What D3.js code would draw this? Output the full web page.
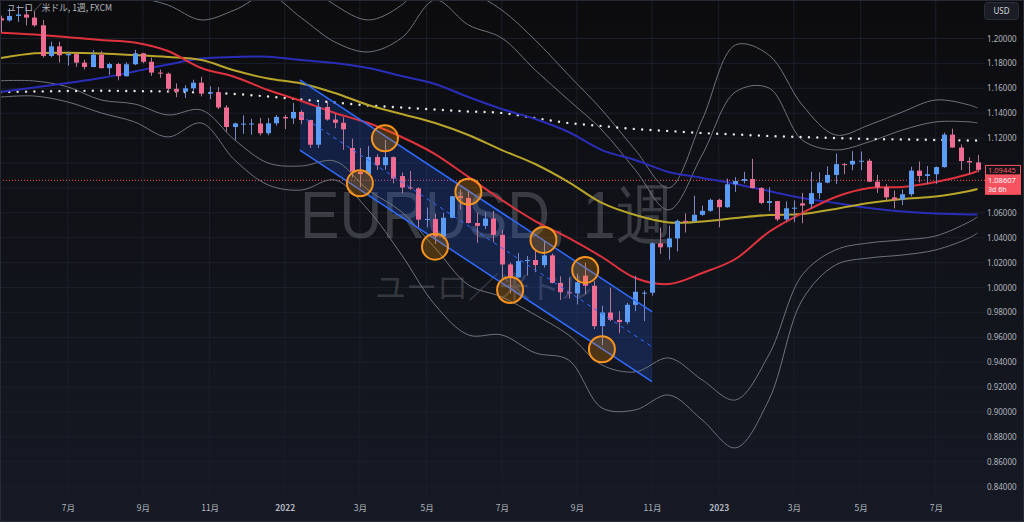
<!DOCTYPE html>
<html>
<head>
<meta charset="utf-8">
<script src="https://cdn.jsdelivr.net/npm/d3@7"></script>
<style>
  html, body { margin: 0; padding: 0; background: #0f1014; }
  svg { display: block; font-family: "Noto Sans", "Liberation Sans", sans-serif; }
</style>
</head>
<body>
<svg width="1024" height="522"></svg>
<script>
// weekly bars, first bar = week of 2021-05-10
const opens = [1.2163,1.2145,1.2181,1.2193,1.2168,1.2106,1.1860,1.1937,1.1865,1.1875,1.1806,1.1771,1.1870,1.1762,1.1795,1.1697,1.1793,1.1881,1.1813,1.1726,1.1718,1.1596,1.1573,1.1600,1.1645,1.1558,1.1569,1.1446,1.1289,1.1312,1.1316,1.1317,1.1239,1.1319,
  1.1370,1.1358,1.1410,1.1345,1.1147,1.1450,1.1349,1.1323,1.1120,1.0930,1.0911,1.1048,1.0983,1.1047,1.0895,1.0803,1.0796,1.0545,1.0550,1.0410,1.0560,1.0733,1.0719,1.0518,1.0495,1.0554,1.0423,1.0185,1.0081,1.0212,1.0221,1.0180,1.0258,1.0037,0.9962,0.9953,1.0095,1.0014,0.9690,0.9799,0.9740,0.9722,0.9861,0.9952,0.9958,1.0355,1.0323,1.0394,1.0535,1.0533,1.0584,1.0616,
  1.0704,1.0645,1.0829,1.0856,1.0871,1.0799,1.0679,1.0694,1.0547,1.0636,1.0676,1.0670,1.0758,1.0842,1.0904,1.0991,1.0988,1.1017,1.1018,1.0850,1.0805,1.0724,1.0706,1.0749,1.0939,1.0896,1.0910,1.0967,1.1228,1.1124,1.1016,1.1005];
const highs = [1.2183,1.2245,1.2265,1.2255,1.2218,1.2149,1.1975,1.1975,1.1895,1.1880,1.1829,1.1909,1.1900,1.1805,1.1805,1.1809,1.1909,1.1885,1.1846,1.1751,1.1726,1.1640,1.1624,1.1669,1.1692,1.1616,1.1609,1.1464,1.1324,1.1383,1.1355,1.1362,1.1361,1.1386,
  1.1386,1.1482,1.1424,1.1348,1.1484,1.1495,1.1395,1.1367,1.1195,1.1121,1.1137,1.1070,1.1185,1.1053,1.0924,1.0936,1.0805,1.0642,1.0593,1.0600,1.0736,1.0787,1.0774,1.0601,1.0606,1.0615,1.0463,1.0200,1.0278,1.0254,1.0293,1.0368,1.0272,1.0090,1.0079,1.0112,1.0198,1.0051,0.9853,0.9999,0.9810,0.9876,1.0094,0.9976,1.0363,1.0481,1.0497,1.0545,1.0595,1.0737,1.0658,1.0714,
  1.0713,1.0875,1.0887,1.0929,1.1033,1.0806,1.0804,1.0696,1.0692,1.0700,1.0760,1.0930,1.0925,1.0973,1.1076,1.1000,1.1096,1.1092,1.1034,1.0904,1.0830,1.0779,1.0787,1.0970,1.1012,1.0976,1.0972,1.1244,1.1276,1.1150,1.1045,1.1065];
const lows = [1.2051,1.2135,1.2133,1.2105,1.2093,1.1847,1.1848,1.1807,1.1782,1.1772,1.1752,1.1769,1.1760,1.1706,1.1664,1.1694,1.1786,1.1802,1.1700,1.1684,1.1563,1.1529,1.1523,1.1571,1.1535,1.1513,1.1433,1.1250,1.1185,1.1235,1.1227,1.1221,1.1222,1.1300,
  1.1272,1.1314,1.1312,1.1121,1.1121,1.1340,1.1280,1.1106,1.0885,1.0806,1.0900,1.0944,1.0946,1.0837,1.0757,1.0785,1.0471,1.0483,1.0350,1.0389,1.0556,1.0627,1.0514,1.0359,1.0470,1.0366,1.0072,0.9952,1.0078,1.0096,1.0123,1.0160,1.0033,0.9900,0.9910,0.9864,0.9944,0.9666,0.9536,0.9730,0.9632,0.9705,0.9810,0.9730,0.9935,1.0270,1.0223,1.0290,1.0442,1.0527,1.0576,1.0608,
  1.0483,1.0640,1.0768,1.0836,1.0796,1.0669,1.0614,1.0533,1.0532,1.0524,1.0516,1.0635,1.0713,1.0837,1.0832,1.0910,1.0941,1.0942,1.0847,1.0760,1.0700,1.0635,1.0661,1.0732,1.0843,1.0834,1.0833,1.0962,1.1122,1.0944,1.0913,1.0926];
const closes = [1.2145,1.2181,1.2193,1.2168,1.2106,1.1860,1.1937,1.1865,1.1875,1.1806,1.1771,1.1870,1.1762,1.1795,1.1697,1.1793,1.1881,1.1813,1.1726,1.1718,1.1596,1.1573,1.1600,1.1645,1.1558,1.1569,1.1446,1.1289,1.1318,1.1316,1.1317,1.1239,1.1319,1.1370,
  1.1358,1.1410,1.1345,1.1147,1.1450,1.1349,1.1323,1.1270,1.0930,1.0911,1.1048,1.0983,1.1047,1.0875,1.0803,1.0796,1.0545,1.0550,1.0410,1.0560,1.0733,1.0719,1.0518,1.0495,1.0554,1.0423,1.0185,1.0081,1.0212,1.0221,1.0180,1.0258,1.0037,0.9962,0.9953,1.0042,1.0014,0.9690,0.9799,0.9740,0.9722,0.9861,0.9966,0.9958,1.0355,1.0323,1.0394,1.0535,1.0533,1.0584,1.0616,1.0704,
  1.0645,1.0829,1.0856,1.0871,1.0799,1.0679,1.0694,1.0547,1.0636,1.0641,1.0658,1.0758,1.0842,1.0904,1.0991,1.0988,1.1017,1.1018,1.0850,1.0805,1.0724,1.0706,1.0749,1.0939,1.0896,1.0910,1.0967,1.1228,1.1124,1.1016,1.1005,1.0945];

// x-axis ticks (bar index of the first bar of the month)
const tickIdx = [8, 17, 25, 34, 43, 51, 60, 69, 78, 86, 95, 103, 112];
const tickLabels = ["7月", "9月", "11月", "2022", "3月", "5月", "7月", "9月", "11月", "2023", "3月", "5月", "7月"];
const priceTicks = [0.84, 0.86, 0.88, 0.90, 0.92, 0.94, 0.96, 0.98, 1.00, 1.02, 1.04, 1.06, 1.08, 1.10, 1.12, 1.14, 1.16, 1.18, 1.20];

// indicator lines, sampled every 4 bars (plus last bar)
const lineIdx = [0,4,8,12,16,20,24,28,32,36,40,44,48,52,56,60,64,68,72,76,80,84,88,92,96,100,104,108,112,116,117];
const maFast = [1.2047,1.2032,1.2010,1.1988,1.1968,1.1900,1.1763,1.1691,1.1586,1.1498,1.1402,1.1321,1.1209,1.1072,1.0888,1.0703,1.0534,1.0398,1.0245,1.0076,1.0028,1.0116,1.0229,1.0446,1.0598,1.0727,1.0799,1.0807,1.0847,1.0912,1.0936];
const maMid = [1.1843,1.1881,1.1886,1.1880,1.1867,1.1851,1.1827,1.1743,1.1679,1.1639,1.1562,1.1466,1.1394,1.1321,1.1225,1.1104,1.0992,1.0847,1.0679,1.0582,1.0522,1.0530,1.0558,1.0582,1.0590,1.0631,1.0679,1.0711,1.0731,1.0775,1.0791];
const maSlow = [1.1573,1.1606,1.1643,1.1683,1.1735,1.1791,1.1839,1.1851,1.1854,1.1827,1.1803,1.1763,1.1699,1.1635,1.1530,1.1434,1.1353,1.1249,1.1104,1.1024,1.0928,1.0880,1.0831,1.0775,1.0719,1.0679,1.0639,1.0610,1.0594,1.0586,1.0586];
const maLong = [1.1570,1.1574,1.1578,1.1580,1.1578,1.1574,1.1566,1.1554,1.1534,1.1510,1.1486,1.1462,1.1446,1.1430,1.1414,1.1402,1.1361,1.1321,1.1297,1.1273,1.1257,1.1241,1.1229,1.1217,1.1209,1.1201,1.1193,1.1189,1.1185,1.1181,1.1181];
const bandUpper3 = [1.2791,1.2831,1.2711,1.2631,1.2590,1.2470,1.2349,1.2430,1.2631,1.2470,1.2269,1.2149,1.2269,1.2550,1.2390,1.2229,1.1988,1.1707,1.1426,1.1105,1.0800,1.1346,1.1948,1.1868,1.1466,1.1225,1.1305,1.1410,1.1506,1.1466,1.1442];
const bandUpper2 = [1.2470,1.2430,1.2390,1.2349,1.2333,1.2269,1.2149,1.2229,1.2349,1.2165,1.1972,1.1892,1.2004,1.2309,1.2109,1.2004,1.1747,1.1506,1.1265,1.0944,1.0623,1.1064,1.1571,1.1603,1.1185,1.1105,1.1169,1.1265,1.1330,1.1330,1.1322];
const bandLower2 = [1.1661,1.1659,1.1611,1.1506,1.1474,1.1386,1.1426,1.1185,1.1000,1.0976,1.1016,1.0783,1.0607,1.0318,1.0021,0.9924,0.9780,0.9619,0.9378,0.9322,0.9434,0.9258,0.9097,0.9459,1.0101,1.0302,1.0358,1.0382,1.0414,1.0527,1.0567];
const bandLower3 = [1.1530,1.1538,1.1490,1.1402,1.1330,1.1209,1.1321,1.1024,1.0824,1.0783,1.0864,1.0623,1.0262,0.9860,0.9619,0.9619,0.9475,0.9418,0.9033,0.9017,0.9137,0.8937,0.8712,0.9097,0.9900,1.0181,1.0237,1.0261,1.0302,1.0398,1.0438];

// drawing: parallel channel and marked touches
const channelIdx = [35.8, 78];
const channelTop = [1.1667, 0.9806];
const channelBottom = [1.1104, 0.9243];
const circleIdx = [43, 46, 52, 56, 61, 65, 70, 72];
const circlePrice = [1.0837, 1.1198, 1.0328, 1.0770, 0.9980, 1.0382, 1.0141, 0.9504];

const lastClose = 1.09445;
const linePrice = 1.08607;

const svg = d3.select("svg"),
  W = 1024, H = 522,
  plotW = 985, plotH = 497;

const xScale = d3.scaleLinear().domain([0, 117]).range([1, 977.5]);
const yScale = d3.scaleLinear().domain([0.84, 1.20]).range([486.7, 38.5]);

const defs = svg.append("defs");
const grad = defs.append("linearGradient").attr("id", "bg").attr("x1", 0).attr("y1", 0).attr("x2", 0).attr("y2", 1);
grad.append("stop").attr("offset", "0%").attr("stop-color", "#0c0c0e");
grad.append("stop").attr("offset", "100%").attr("stop-color", "#161a25");
defs.append("clipPath").attr("id", "plot").append("rect").attr("width", plotW).attr("height", plotH);

svg.append("rect").attr("width", W).attr("height", H).attr("fill", "url(#bg)");

const plot = svg.append("g").attr("clip-path", "url(#plot)");

// grid
plot.append("g").selectAll("line").data(tickIdx).join("line")
  .attr("x1", d => xScale(d)).attr("x2", d => xScale(d))
  .attr("y1", 0).attr("y2", plotH)
  .attr("stroke", "#1b1f2a").attr("stroke-width", 1);
plot.append("g").selectAll("line").data(priceTicks).join("line")
  .attr("x1", 0).attr("x2", plotW)
  .attr("y1", d => yScale(d)).attr("y2", d => yScale(d))
  .attr("stroke", "#1b1f2a").attr("stroke-width", 1);

// watermark
plot.append("text")
  .attr("x", 300).attr("y", 238)
  .attr("textLength", 375).attr("lengthAdjust", "spacingAndGlyphs")
  .attr("font-size", 66).attr("font-family", "Liberation Sans, sans-serif")
  .attr("fill", "rgba(178,181,190,0.26)")
  .text("EURUSD, 1週");
plot.append("text")
  .attr("x", 375).attr("y", 298)
  .attr("textLength", 217).attr("lengthAdjust", "spacingAndGlyphs")
  .attr("font-size", 30).attr("font-family", "Noto Sans CJK JP, sans-serif")
  .attr("fill", "rgba(178,181,190,0.22)")
  .text("ユーロ／米ドル");

// price line (dotted)
plot.append("line")
  .attr("x1", 0).attr("x2", plotW)
  .attr("y1", yScale(linePrice)).attr("y2", yScale(linePrice))
  .attr("stroke", "#f7525f").attr("stroke-width", 1).attr("stroke-dasharray", "1,2");

// channel fill
const chPoly = [
  [xScale(channelIdx[0]), yScale(channelTop[0])],
  [xScale(channelIdx[1]), yScale(channelTop[1])],
  [xScale(channelIdx[1]), yScale(channelBottom[1])],
  [xScale(channelIdx[0]), yScale(channelBottom[0])]
];
plot.append("polygon").attr("points", chPoly.map(p => p.join(",")).join(" "))
  .attr("fill", "rgba(41,98,255,0.2)");

// indicator lines
const lineGen = d3.line().x((d, i) => xScale(lineIdx[i])).y(d => yScale(d)).curve(d3.curveCatmullRom.alpha(0.5));
[bandUpper3, bandUpper2, bandLower2, bandLower3].forEach(s => {
  plot.append("path").datum(s).attr("d", lineGen)
    .attr("fill", "none").attr("stroke", "#6f727c").attr("stroke-width", 1);
});
plot.append("path").datum(maLong).attr("d", lineGen)
  .attr("fill", "none").attr("stroke", "#e6e6e6").attr("stroke-width", 2.4)
  .attr("stroke-linecap", "round").attr("stroke-dasharray", "0,8.35");
plot.append("path").datum(maSlow).attr("d", lineGen)
  .attr("fill", "none").attr("stroke", "#2a2db8").attr("stroke-width", 2);
plot.append("path").datum(maMid).attr("d", lineGen)
  .attr("fill", "none").attr("stroke", "#b9a52a").attr("stroke-width", 2);
plot.append("path").datum(maFast).attr("d", lineGen)
  .attr("fill", "none").attr("stroke", "#e0323d").attr("stroke-width", 2);

// candles
const bars = d3.range(opens.length);
const upCol = "#5b9cf6", dnCol = "#f06b92";
const candle = plot.append("g").selectAll("g").data(bars).join("g");
candle.append("line")
  .attr("x1", i => Math.round(xScale(i)) + 0.5).attr("x2", i => Math.round(xScale(i)) + 0.5)
  .attr("y1", i => yScale(highs[i])).attr("y2", i => yScale(lows[i]))
  .attr("stroke", i => closes[i] >= opens[i] ? "#7b87c9" : "#b07896").attr("stroke-width", 1);
candle.append("rect")
  .attr("x", i => Math.round(xScale(i)) - 2)
  .attr("width", 5)
  .attr("y", i => yScale(Math.max(opens[i], closes[i])))
  .attr("height", i => Math.max(1, Math.abs(yScale(opens[i]) - yScale(closes[i]))))
  .attr("fill", i => closes[i] >= opens[i] ? upCol : dnCol);

// channel lines
plot.append("line").attr("x1", chPoly[0][0]).attr("y1", chPoly[0][1]).attr("x2", chPoly[1][0]).attr("y2", chPoly[1][1])
  .attr("stroke", "#2f6bff").attr("stroke-width", 1.5);
plot.append("line").attr("x1", chPoly[3][0]).attr("y1", chPoly[3][1]).attr("x2", chPoly[2][0]).attr("y2", chPoly[2][1])
  .attr("stroke", "#2f6bff").attr("stroke-width", 1.5);
plot.append("line")
  .attr("x1", chPoly[0][0]).attr("y1", (chPoly[0][1] + chPoly[3][1]) / 2)
  .attr("x2", chPoly[1][0]).attr("y2", (chPoly[1][1] + chPoly[2][1]) / 2)
  .attr("stroke", "#2f6bff").attr("stroke-width", 1).attr("stroke-dasharray", "4,4");

// circles
plot.append("g").selectAll("circle").data(circleIdx).join("circle")
  .attr("cx", d => xScale(d)).attr("cy", (d, i) => yScale(circlePrice[i]))
  .attr("r", 13)
  .attr("fill", "rgba(255,152,0,0.25)")
  .attr("stroke", "#f7931e").attr("stroke-width", 2);

// title
svg.append("text").attr("x", 7).attr("y", 11)
  .attr("font-size", 9.5).attr("fill", "#b2b5be")
  .attr("textLength", 105).attr("lengthAdjust", "spacingAndGlyphs")
  .attr("font-family", "Noto Sans CJK JP, sans-serif")
  .text("ユーロ／米ドル, 1週, FXCM");

// y axis (labels hidden behind the price tags are dropped)
const shownTicks = priceTicks.filter(d =>
  Math.abs(yScale(d) - yScale(linePrice)) > 11 && Math.abs(yScale(d) - yScale(lastClose)) > 9);
const yAxis = d3.axisRight(yScale).tickValues(shownTicks).tickFormat(d3.format(".5f")).tickSize(0).tickPadding(2);
const gy = svg.append("g").attr("transform", "translate(" + plotW + ",0)").call(yAxis);
gy.select(".domain").remove();
gy.selectAll("text").attr("fill", "#b2b5be").attr("font-size", 8).attr("font-family", "Noto Sans, sans-serif");

// x axis
const xAxis = d3.axisBottom(xScale).tickValues(tickIdx).tickFormat((d, i) => tickLabels[i]).tickSize(0).tickPadding(8);
const gx = svg.append("g").attr("transform", "translate(0," + plotH + ")").call(xAxis);
gx.select(".domain").remove();
gx.selectAll("text").attr("fill", "#b2b5be").attr("font-size", 8.5)
  .attr("font-family", "Noto Sans CJK JP, sans-serif")
  .attr("font-weight", d => tickLabels[tickIdx.indexOf(d)].length === 4 ? "bold" : "normal");

// price labels
const lbl = svg.append("g");
const yc = yScale(lastClose), yl = yScale(linePrice);
lbl.append("rect").attr("x", 985.5).attr("y", yc - 4.5).attr("width", 35).attr("height", 9.5)
  .attr("fill", "#131419").attr("stroke", "#f7525f").attr("stroke-width", 1);
lbl.append("text").attr("x", 988).attr("y", yc + 3).attr("font-size", 7.5).attr("fill", "#f7525f")
  .text(d3.format(".5f")(lastClose));
lbl.append("rect").attr("x", 985).attr("y", yl - 5.5).attr("width", 36).attr("height", 20)
  .attr("fill", "#f7525f");
lbl.append("text").attr("x", 988).attr("y", yl + 3).attr("font-size", 7.5).attr("fill", "#ffffff")
  .text(d3.format(".5f")(linePrice));
lbl.append("text").attr("x", 988).attr("y", yl + 12).attr("font-size", 7).attr("fill", "#ffffff")
  .text("3d 6h");

// currency button
svg.append("rect").attr("x", 984.5).attr("y", 2.5).attr("width", 34).attr("height", 17).attr("rx", 3)
  .attr("fill", "#1a1d26").attr("stroke", "#2a2e39");
svg.append("text").attr("x", 1001.5).attr("y", 14).attr("text-anchor", "middle")
  .attr("font-size", 8).attr("fill", "#d1d4dc").text("USD");

// frame
svg.append("rect").attr("x", 0.5).attr("y", 0.5).attr("width", W - 1).attr("height", H - 1)
  .attr("fill", "none").attr("stroke", "#262a35").attr("stroke-width", 1);
</script>
</body>
</html>
